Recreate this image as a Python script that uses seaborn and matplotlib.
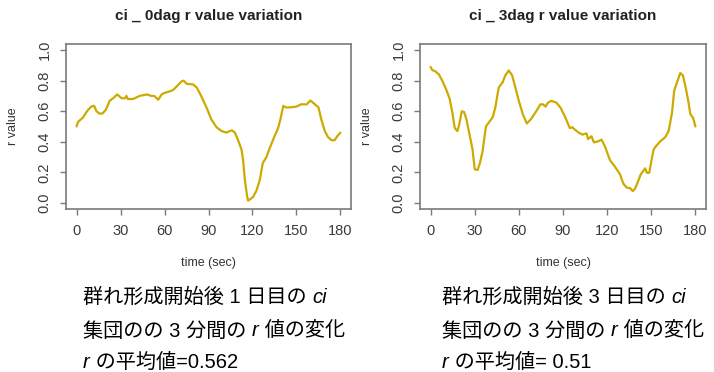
import numpy as np
import pandas as pd
import matplotlib
matplotlib.use("Agg")
import matplotlib.pyplot as plt
import seaborn as sns

# 1日目 (0dag) の r 値
t_day1 = [0, 1, 4.5, 6.4, 8, 10, 12, 13.6, 15.5, 17.7, 20, 22.7, 25, 27.7, 29, 30.7, 33, 34, 35,
          38.6, 43, 48, 51, 53, 55.7, 58, 60, 63.6, 66, 68.6, 71.6, 73, 75, 79.5, 82, 85, 88.6,
          92, 95.5, 99, 102, 106, 108, 110, 112.5, 113.6, 114.8, 116.4, 117, 118.6, 120.5, 122.7,
          125, 127, 129.5, 131.8, 135, 137.5, 139, 141, 142.7, 145.5, 150, 153, 157, 159.5, 161.4,
          165, 167, 169.3, 171.6, 174, 176, 177.7, 180]
r_day1 = [0.50, 0.53, 0.56, 0.59, 0.61, 0.63, 0.635, 0.60, 0.585, 0.585, 0.61, 0.67, 0.685, 0.71,
          0.70, 0.685, 0.685, 0.70, 0.68, 0.68, 0.70, 0.71, 0.70, 0.70, 0.675, 0.71, 0.72, 0.73,
          0.74, 0.765, 0.795, 0.80, 0.78, 0.775, 0.755, 0.70, 0.625, 0.545, 0.495, 0.47, 0.46,
          0.475, 0.46, 0.415, 0.35, 0.28, 0.15, 0.04, 0.015, 0.025, 0.04, 0.08, 0.15, 0.26, 0.30,
          0.36, 0.435, 0.49, 0.545, 0.635, 0.625, 0.625, 0.63, 0.645, 0.645, 0.67, 0.655, 0.625,
          0.545, 0.47, 0.43, 0.41, 0.41, 0.435, 0.46]

# 3日目 (3dag) の r 値
t_day3 = [0, 1.1, 3.4, 5.7, 8.4, 10.7, 13, 14.8, 16.4, 18.2, 19.4, 21.2, 22.8, 24.4, 26.2, 28.5,
          30, 31.9, 33.5, 35.3, 37.6, 39.9, 42.2, 44, 46.3, 49, 50.8, 53.1, 55.4, 57.6, 59.9, 62.7,
          65.4, 68.4, 71.8, 74.6, 76.3, 78.2, 79.7, 82, 85.4, 88.2, 91.1, 94.6, 96.4, 98, 101,
          103.2, 106, 107, 109.4, 111, 114, 116.2, 118.5, 121.9, 125.3, 128.7, 131, 133.3, 135.6,
          137.4, 139, 141.3, 142.9, 145.8, 147, 148.6, 151.5, 153.1, 156.1, 159.5, 161.8, 164.1,
          165.6, 167.9, 169.7, 171.5, 173.1, 174.9, 176.6, 178.4, 180]
r_day3 = [0.89, 0.87, 0.86, 0.84, 0.79, 0.74, 0.68, 0.59, 0.49, 0.47, 0.51, 0.60, 0.595, 0.545,
          0.46, 0.35, 0.22, 0.215, 0.26, 0.335, 0.50, 0.53, 0.56, 0.625, 0.755, 0.79, 0.835, 0.867,
          0.835, 0.757, 0.67, 0.58, 0.52, 0.55, 0.60, 0.645, 0.645, 0.63, 0.655, 0.668, 0.657,
          0.625, 0.57, 0.49, 0.495, 0.48, 0.458, 0.447, 0.455, 0.418, 0.436, 0.396, 0.403, 0.414,
          0.37, 0.28, 0.237, 0.188, 0.126, 0.10, 0.097, 0.077, 0.093, 0.148, 0.188, 0.226, 0.197,
          0.197, 0.347, 0.37, 0.403, 0.43, 0.47, 0.59, 0.735, 0.80, 0.85, 0.835, 0.768, 0.68, 0.58,
          0.557, 0.50]

titles = ["ci _ 0dag r value variation", "ci _ 3dag r value variation"]
x_ticks = [0, 30, 60, 90, 120, 150, 180]
y_ticks = [0.0, 0.2, 0.4, 0.6, 0.8, 1.0]

# 下の説明文 (italic の部分は True)
captions = [
    [[("群れ形成開始後 1 日目の ", False), ("ci", True)],
     [("集団のの 3 分間の ", False), ("r", True), (" 値の変化", False)],
     [("r", True), (" の平均値=0.562", False)]],
    [[("群れ形成開始後 3 日目の ", False), ("ci", True)],
     [("集団のの 3 分間の ", False), ("r", True), (" 値の変化", False)],
     [("r", True), (" の平均値= 0.51", False)]],
]

sns.set_theme(style="ticks")
plt.rcParams['font.family'] = ['Liberation Sans', 'Noto Sans CJK JP', 'DejaVu Sans']

W, H = 714, 372
fig = plt.figure(figsize=(W / 100, H / 100), dpi=100)

grey = "#7a7a7a"
line_col = "#CDAA00"
boxes = [(66, 351), (420, 706)]
top, bottom = 44, 209

data = [(t_day1, r_day1), (t_day3, r_day3)]
for i, (x0, x1) in enumerate(boxes):
    ax = fig.add_axes([x0 / W, 1 - bottom / H, (x1 - x0) / W, (bottom - top) / H])
    df = pd.DataFrame({"time": data[i][0], "r": data[i][1]})
    sns.lineplot(data=df, x="time", y="r", ax=ax, color=line_col, linewidth=1.6)
    ax.set_xlim(-7.2, 187.2)
    ax.set_ylim(-0.04, 1.04)
    ax.set_xticks(x_ticks)
    ax.set_yticks(y_ticks)
    ax.set_yticklabels([f"{v:.1f}" for v in y_ticks], rotation=90, va="center")
    ax.tick_params(colors=grey, labelcolor="#3a3a3a", labelsize=10.5, length=4.5, width=1, pad=6)
    for s in ax.spines.values():
        s.set_color(grey)
        s.set_linewidth(1.2)
        s.set_visible(True)
    ax.set_xlabel("")
    ax.set_ylabel("")
    cx = (x0 + x1) / 2
    fig.text(cx / W, 1 - 16 / H, titles[i], ha="center", va="center",
             fontsize=11, fontweight="bold", color="#222222")
    fig.text(cx / W, 1 - 263 / H, "time (sec)", ha="center", va="center",
             fontsize=9, color="#333333")
    fig.text((x0 - 53) / W, 1 - 126.5 / H, "r value", ha="center", va="center",
             rotation=90, fontsize=9, color="#333333")

# 説明文を部品ごとに並べる
starts = [83, 442]
line_y = [297, 331, 362]
cap_size = 14.5
for i, lines in enumerate(captions):
    for j, parts in enumerate(lines):
        last = None
        for txt, it in parts:
            style = "italic" if it else "normal"
            if last is None:
                last = fig.text(starts[i] / W, 1 - line_y[j] / H, txt, ha="left", va="center",
                                fontsize=cap_size, style=style, color="black")
            else:
                last = fig.axes[0].annotate(txt, xy=(1, 0), xycoords=last, ha="left", va="bottom",
                                            fontsize=cap_size, style=style, color="black",
                                            annotation_clip=False)

fig.savefig("out.png", dpi=100)
